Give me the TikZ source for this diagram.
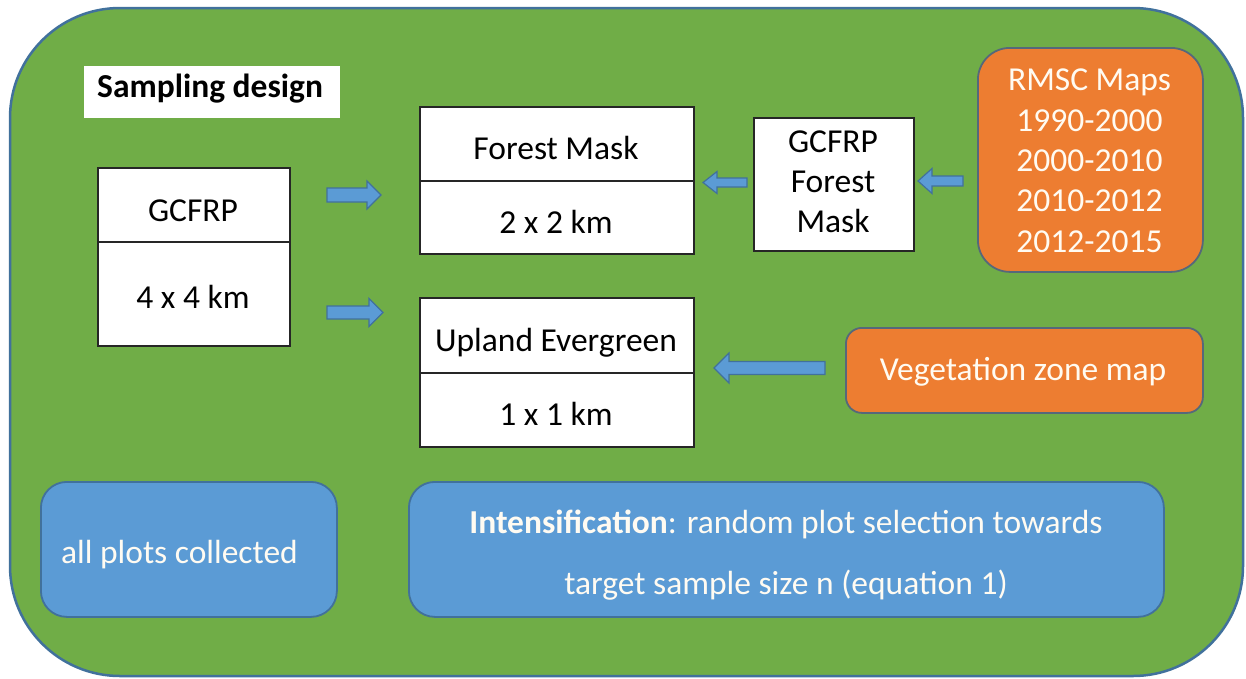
\documentclass[tikz,border=0pt]{standalone}
\usepackage{fontspec}
\setmainfont{Carlito}
\definecolor{bggreen}{HTML}{70AD47}
\definecolor{edgeblue}{HTML}{41719C}
\definecolor{fillblue}{HTML}{5B9BD5}
\definecolor{fillorange}{HTML}{ED7D31}
\definecolor{orangeedge}{HTML}{56687A}
\definecolor{paletext}{HTML}{FFFBF2}
\newcommand\blkarrow[6]{% tail x, tip x, y, shaft half, head half, head base x
  \draw[blockarr] (#1,{#3-#4}) -- (#6,{#3-#4}) -- (#6,{#3-#5}) -- (#2,#3) -- (#6,{#3+#5}) -- (#6,{#3+#4}) -- (#1,{#3+#4}) -- cycle;}
\tikzset{
  blockarr/.style={fill=fillblue, draw=edgeblue, line width=1.2pt, line join=miter},
  cellbox/.style={draw=black!85, line width=1.6pt, fill=white, inner sep=0pt, anchor=north west},
  bluebox/.style={draw=edgeblue, line width=1.8pt, fill=fillblue, inner sep=0pt, anchor=north west, rounded corners=26pt},
  orangebox/.style={draw=orangeedge, line width=1.8pt, fill=fillorange, inner sep=0pt, anchor=north west},
  dark/.style={inner sep=0pt, text=black, font=\fontsize{33.5}{40}\selectfont, anchor=base},
  light/.style={inner sep=0pt, text=paletext, font=\fontsize{33.5}{40}\selectfont, anchor=base},
}
\begin{document}
\begin{tikzpicture}[x=1pt,y=-1pt]
\useasboundingbox (0,0) rectangle (1246,678);
\fill[white] (0,0) rectangle (1246,678);
% outer panel
\draw[fill=bggreen, draw=edgeblue, line width=2.5pt, rounded corners=110pt] (10,8) rectangle (1243,676);
% title
\node[cellbox, draw=none, minimum width=256pt, minimum height=52pt] (titlebox) at (83,65) {};
\node[dark, anchor=base west, font=\fontsize{33.5}{40}\selectfont\bfseries] (title) at (97,97) {Sampling design};
% GCFRP
\node[cellbox, minimum width=192pt, minimum height=74pt] (gtop) at (97,167) {};
\node[cellbox, minimum width=192pt, minimum height=104pt] (gbot) at (97,241) {};
\node[dark] (gtopt) at (193,221) {GCFRP};
\node[dark] (gbott) at (193,308) {4 x 4 km};
% Forest mask
\node[cellbox, minimum width=274pt, minimum height=74pt] (ftop) at (419,106) {};
\node[cellbox, minimum width=274pt, minimum height=73pt] (fbot) at (419,180) {};
\node[dark] (ftopt) at (556,159) {Forest Mask};
\node[dark] (fbott) at (556,233) {2 x 2 km};
% Upland evergreen
\node[cellbox, minimum width=274pt, minimum height=75pt] (utop) at (419,297) {};
\node[cellbox, minimum width=274pt, minimum height=74pt] (ubot) at (419,372) {};
\node[dark] (utopt) at (556,351) {Upland Evergreen};
\node[dark] (ubott) at (556,425) {1 x 1 km};
% GCFRP forest mask
\node[cellbox, minimum width=160pt, minimum height=133pt] (gfm) at (753,117) {};
\node[dark] (gfm1) at (833,152) {GCFRP};
\node[dark] (gfm2) at (833,192) {Forest};
\node[dark] (gfm3) at (833,232) {Mask};
% RMSC maps
\node[orangebox, rounded corners=32pt, minimum width=225pt, minimum height=224pt] (rmsc) at (977,47) {};
\node[light] (r1) at (1089.5,90) {RMSC Maps};
\node[light] (r2) at (1089.5,131) {1990-2000};
\node[light] (r3) at (1089.5,171) {2000-2010};
\node[light] (r4) at (1089.5,211.5) {2010-2012};
\node[light] (r5) at (1089.5,252) {2012-2015};
% Vegetation zone map
\node[orangebox, rounded corners=16pt, minimum width=357pt, minimum height=85pt] (veg) at (845,327) {};
\node[light] (vegt) at (1023,380) {Vegetation zone map};
% bottom boxes
\node[bluebox, minimum width=296pt, minimum height=135pt] (allp) at (40,481) {};
\node[light] (allpt) at (179.5,563) {all plots collected};
\node[bluebox, minimum width=755pt, minimum height=135pt] (intens) at (408,481) {};
\node[light] (int1) at (786,533) {\textbf{Intensification}: random plot selection towards};
\node[light] (int2) at (786,594) {target sample size n (equation 1)};
% block arrows
\blkarrow{327}{381}{195}{7}{14}{367}
\blkarrow{327}{383}{312.5}{6.5}{14}{369}
\blkarrow{747}{703}{182.5}{4.5}{11}{717}
\blkarrow{963}{918}{181}{5}{12.5}{932}
\blkarrow{825}{714}{368}{6.5}{15}{729}
\end{tikzpicture}
\end{document}
